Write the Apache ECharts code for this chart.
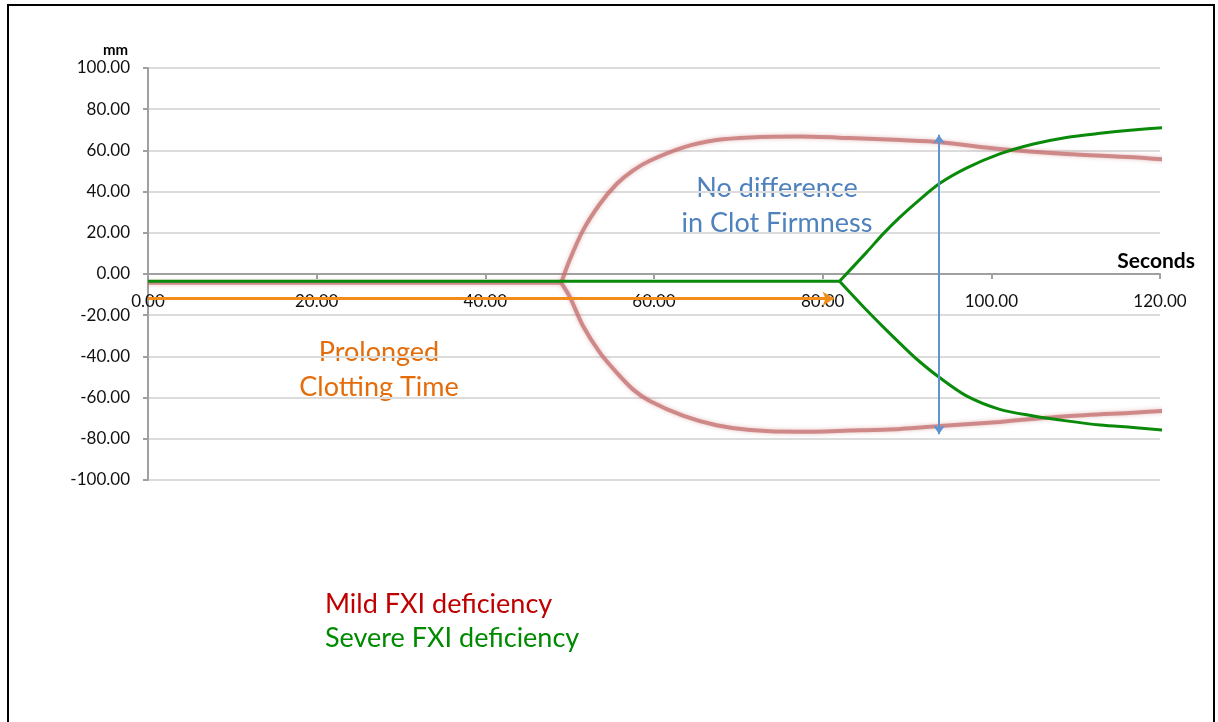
<!DOCTYPE html>
<html>
<head>
<meta charset="utf-8">
<script src="https://cdn.jsdelivr.net/npm/echarts@6/dist/echarts.min.js"></script>
<style>
  html, body { margin: 0; padding: 0; background: #fff; }
  #chart { width: 1218px; height: 722px; }
</style>
</head>
<body>
<div id="chart"></div>
<script>
// flat part before clot formation [seconds]
const mildBaseTime = [0, 49];
const mildBase = [-4.3, -4.3];
const severeBaseTime = [0, 82];
const severeBase = [-3.5, -3.5];

// mild FXI deficiency (red), upper and lower branch after the split
const mildTime  = [49, 50, 51.6, 53.6, 55.6, 57.5, 59.5, 63.5, 67.4, 71.4, 77.3, 83.2, 89.2, 93.9, 101, 108.9, 116.8, 121];
const mildUpper = [-4.3, 6.8, 21.3, 34.1, 43.8, 50.2, 55, 61.5, 65, 66.3, 66.7, 66, 65, 64, 60.7, 58.3, 56.7, 55.4];
const mildLower = [-4.3, -11, -25.4, -38.3, -48, -56, -61.7, -68.9, -73.4, -75.7, -76.6, -76, -75.2, -73.8, -71.8, -69, -67.3, -66.4];

// severe FXI deficiency (green) after the split
const severeTime  = [82, 85.2, 87.2, 89.2, 91.2, 93.9, 97.1, 101, 105, 108.9, 112.9, 116.8, 120.8];
const severeUpper = [-3.5, 10.5, 19.6, 27.7, 35, 44, 51.5, 58.3, 63.1, 66.3, 68.3, 69.9, 71.2];
const severeLower = [-3.5, -17.5, -25.8, -33.8, -41.5, -50.4, -59.3, -65.7, -68.9, -71.3, -73.3, -74.5, -75.9];

// annotation arrows [seconds, mm]
const clottingArrow = [[0, -12], [81.3, -12]];
const firmnessArrow = [[93.8, 67.6], [93.8, -77.8]];

const xTicks = [0, 20, 40, 60, 80, 100, 120];
const yTicks = [-100, -80, -60, -40, -20, 0, 20, 40, 60, 80, 100];

const FONT = "Lato, 'Open Sans', sans-serif";
const pairs = (xs, ys) => xs.map((x, i) => [x, ys[i]]);

const mildStyle = {
  color: "rgba(196, 110, 110, 0.75)",
  width: 4,
  shadowBlur: 4,
  shadowColor: "rgba(200, 120, 120, 0.6)"
};
const severeStyle = { color: "#0a8a0a", width: 3 };

function curve(data, lineStyle, z, smooth) {
  return {
    type: "line",
    data: data,
    smooth: smooth,
    showSymbol: false,
    clip: false,
    lineStyle: lineStyle,
    silent: true,
    z: z
  };
}

const gridTop = 68, gridBottom = 242, gridHeight = 722 - gridTop - gridBottom;
// x axis sits on the zero line of the y axis
const zeroOffset = -gridHeight * (0 - yTicks[0]) / (yTicks[yTicks.length - 1] - yTicks[0]);

const chart = echarts.init(document.getElementById("chart"));

chart.setOption({
  animation: false,
  grid: { left: 148, right: 58, top: gridTop, bottom: gridBottom },
  xAxis: {
    type: "value",
    position: "bottom",
    offset: zeroOffset,
    min: xTicks[0],
    max: xTicks[xTicks.length - 1],
    interval: 20,
    axisLine: { onZero: false, lineStyle: { color: "#a0a0a0", width: 2 } },
    axisTick: { show: true, length: 5, lineStyle: { color: "#a0a0a0", width: 2 } },
    splitLine: { show: false },
    axisLabel: {
      color: "#111",
      fontFamily: FONT,
      fontSize: 17,
      margin: 19,
      formatter: v => v.toFixed(2)
    }
  },
  yAxis: {
    type: "value",
    min: yTicks[0],
    max: yTicks[yTicks.length - 1],
    interval: 20,
    axisLine: { show: true, onZero: false, lineStyle: { color: "#a0a0a0", width: 2 } },
    axisTick: { show: true, length: 5, lineStyle: { color: "#a0a0a0", width: 2 } },
    splitLine: { show: true, lineStyle: { color: "#dcdcdc", width: 2 } },
    axisLabel: {
      color: "#111",
      fontFamily: FONT,
      fontSize: 17,
      margin: 18,
      formatter: v => v.toFixed(2)
    }
  },
  series: [
    curve(pairs(mildBaseTime, mildBase), mildStyle, 2, false),
    curve(pairs(mildTime, mildUpper), mildStyle, 2, 0.3),
    curve(pairs(mildTime, mildLower), mildStyle, 2, 0.3),
    curve(pairs(severeBaseTime, severeBase), severeStyle, 3, false),
    curve(pairs(severeTime, severeUpper), severeStyle, 3, 0.3),
    curve(pairs(severeTime, severeLower), severeStyle, 3, 0.3),
    {
      type: "line",
      data: [],
      silent: true,
      z: 4,
      markLine: {
        silent: true,
        symbol: ["none", "arrow"],
        symbolSize: 11,
        label: { show: false },
        lineStyle: { color: "#f28c1a", width: 3, type: "solid" },
        data: [[{ coord: clottingArrow[0] }, { coord: clottingArrow[1] }]]
      }
    },
    {
      type: "line",
      data: [],
      silent: true,
      z: 4,
      markLine: {
        silent: true,
        symbol: ["arrow", "arrow"],
        symbolSize: 9,
        label: { show: false },
        lineStyle: { color: "#5e94d0", width: 2, type: "solid" },
        data: [[{ coord: firmnessArrow[0] }, { coord: firmnessArrow[1] }]]
      }
    }
  ],
  graphic: [
    {
      type: "rect",
      shape: { x: 8, y: 5, width: 1206, height: 740 },
      style: { fill: "none", stroke: "#000", lineWidth: 2 },
      silent: true
    },
    {
      type: "text", x: 128, y: 50,
      style: { text: "mm", fill: "#000", font: "bold 15px " + FONT, align: "right", verticalAlign: "middle" }
    },
    {
      type: "text", x: 1195, y: 261,
      style: { text: "Seconds", fill: "#000", font: "bold 21px " + FONT, align: "right", verticalAlign: "middle" }
    },
    {
      type: "text", x: 777, y: 206,
      style: { text: "No difference\nin Clot Firmness", fill: "#4f81bd", font: "27px " + FONT, lineHeight: 35, align: "center", verticalAlign: "middle" }
    },
    {
      type: "text", x: 379, y: 370,
      style: { text: "Prolonged\nClotting Time", fill: "#e46c0a", font: "27px " + FONT, lineHeight: 35, align: "center", verticalAlign: "middle" }
    },
    {
      type: "text", x: 325, y: 604,
      style: { text: "Mild FXI deficiency", fill: "#c00000", font: "27px " + FONT, align: "left", verticalAlign: "middle" }
    },
    {
      type: "text", x: 325, y: 638,
      style: { text: "Severe FXI deficiency", fill: "#008a00", font: "27px " + FONT, align: "left", verticalAlign: "middle" }
    }
  ]
});
</script>
</body>
</html>
